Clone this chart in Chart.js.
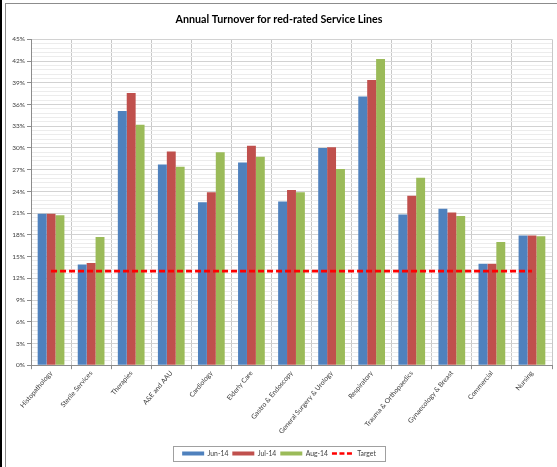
<!DOCTYPE html>
<html><head><meta charset="utf-8">
<script src="https://cdn.jsdelivr.net/npm/chart.js@4.4.0/dist/chart.umd.min.js"></script>
<style>
html,body{margin:0;padding:0;background:#fff;width:557px;height:467px;overflow:hidden;position:relative}
#bar{position:absolute;left:0;top:0;width:2px;height:467px;background:#000}
#frame{position:absolute;left:5px;top:3px;width:552px;height:464px;border-top:1px solid #8c8c8c;border-left:1px solid #8c8c8c;box-sizing:border-box}
#wrap{position:absolute;left:6px;top:4px;width:551px;height:463px}
</style></head><body>
<div id="bar"></div><div id="frame"></div>
<div id="wrap"><canvas id="c" width="551" height="463"></canvas></div>
<script>
const categories = ["Histopathology","Sterile Services","Therapies","A&E and AAU","Cardiology","Elderly Care","Gastro & Endoscopy","General Surgery & Urology","Respiratory","Trauma & Orthopaedics","Gynaecology & Breast","Commercial","Nursing"];
const jun14 = [20.9, 13.9, 35.1, 27.7, 22.5, 28.0, 22.6, 30.0, 37.1, 20.8, 21.6, 14.0, 17.9];
const jul14 = [20.9, 14.1, 37.6, 29.5, 23.9, 30.3, 24.2, 30.1, 39.4, 23.4, 21.1, 14.0, 17.9];
const aug14 = [20.7, 17.7, 33.2, 27.4, 29.4, 28.8, 23.9, 27.1, 42.3, 25.9, 20.6, 17.0, 17.8];
const target = [13, 13, 13, 13, 13, 13, 13, 13, 13, 13, 13, 13, 13];
const seriesNames = ["Jun-14", "Jul-14", "Aug-14", "Target"];
const yMax = 45, yMajor = 3, yMinorPerMajor = 5;

const FONT = "Lato, 'Liberation Sans', sans-serif";
const legendBox = {
  id: 'legendBox',
  afterDraw(chart) {
    const lg = chart.legend;
    if (!lg || !lg.legendHitBoxes || !lg.legendHitBoxes.length) return;
    let l = 1e9, r = -1e9, t = 1e9, b = -1e9;
    lg.legendHitBoxes.forEach(h => {
      l = Math.min(l, h.left); r = Math.max(r, h.left + h.width);
      t = Math.min(t, h.top); b = Math.max(b, h.top + h.height);
    });
    const ctx = chart.ctx;
    ctx.save();
    ctx.strokeStyle = '#a0a0a0';
    ctx.lineWidth = 1;
    ctx.strokeRect(Math.round(l - 9) + 0.5, Math.round(t - 4) + 0.5, Math.round(r - l + 18), Math.round(b - t + 8));
    ctx.restore();
  }
};

new Chart(document.getElementById('c'), {
  type: 'bar',
  data: {
    labels: categories,
    datasets: [
      { label: seriesNames[0], data: jun14, backgroundColor: '#4F81BD', borderWidth: 0, categoryPercentage: 0.667, barPercentage: 1.0 },
      { label: seriesNames[1], data: jul14, backgroundColor: '#C0504D', borderWidth: 0, categoryPercentage: 0.667, barPercentage: 1.0 },
      { label: seriesNames[2], data: aug14, backgroundColor: '#9BBB59', borderWidth: 0, categoryPercentage: 0.667, barPercentage: 1.0 },
      { label: seriesNames[3], data: target, type: 'line', order: -1, borderColor: '#FF0000', backgroundColor: '#FF0000', borderWidth: 2.7, borderDash: [6, 3], pointRadius: 0, pointStyle: 'line', fill: false }
    ]
  },
  options: {
    responsive: false,
    animation: false,
    devicePixelRatio: 1,
    layout: { padding: { left: 0, right: 5, top: 0, bottom: 0 } },
    plugins: {
      tooltip: { enabled: false },
      title: {
        display: true,
        text: 'Annual Turnover for red-rated Service Lines',
        color: '#000',
        font: { family: FONT, size: 10.7, weight: 'bold' },
        padding: { top: 9.5, bottom: 13 }
      },
      legend: {
        position: 'bottom',
        labels: {
          usePointStyle: true,
          pointStyleWidth: 22,
          boxHeight: 4,
          padding: 4,
          color: '#404040',
          font: { family: FONT, size: 6.8 },
          sort: (a, b) => a.datasetIndex - b.datasetIndex,
          generateLabels(chart) {
            const items = Chart.defaults.plugins.legend.labels.generateLabels(chart);
            items.forEach(it => {
              const ds = chart.data.datasets[it.datasetIndex];
              if (ds.type === 'line') {
                it.pointStyle = 'line'; it.strokeStyle = '#FF0000'; it.lineWidth = 2.5; it.lineDash = [5, 2.5];
              } else {
                it.pointStyle = 'rect'; it.lineWidth = 0; it.fillStyle = ds.backgroundColor; it.strokeStyle = ds.backgroundColor;
              }
            });
            return items;
          }
        }
      }
    },
    scales: {
      x: {
        offset: true,
        grid: { color: '#c8c8c8', offset: true, drawTicks: true, tickLength: 4, tickColor: '#8c8c8c' },
        border: { color: '#8c8c8c' },
        ticks: { color: '#404040', font: { family: FONT, size: 6.8 }, minRotation: 50, maxRotation: 50, autoSkip: false, padding: 0 },
        afterFit(s) { s.height = 81; }
      },
      y: {
        min: 0, max: yMax,
        afterBuildTicks(s) {
          const n = (yMax / yMajor) * yMinorPerMajor;
          const ticks = [];
          for (let i = 0; i <= n; i++) ticks.push({ value: Math.round(i * yMajor / yMinorPerMajor * 1000) / 1000 });
          s.ticks = ticks;
        },
        grid: {
          color: c => (c.index % yMinorPerMajor === 0 ? '#d2d2d2' : '#ececec'),
          tickColor: c => (c.index % yMinorPerMajor === 0 ? '#8c8c8c' : 'rgba(0,0,0,0)'),
          tickLength: 4
        },
        border: { color: '#8c8c8c' },
        ticks: {
          autoSkip: false,
          color: '#404040',
          padding: 2,
          font: { family: FONT, size: 6.5 },
          callback: (v, i) => (i % yMinorPerMajor === 0 ? Math.round(v) + '%' : '')
        },
        afterFit(s) { s.width = 25; }
      }
    }
  },
  plugins: [legendBox]
});
</script>
</body></html>
